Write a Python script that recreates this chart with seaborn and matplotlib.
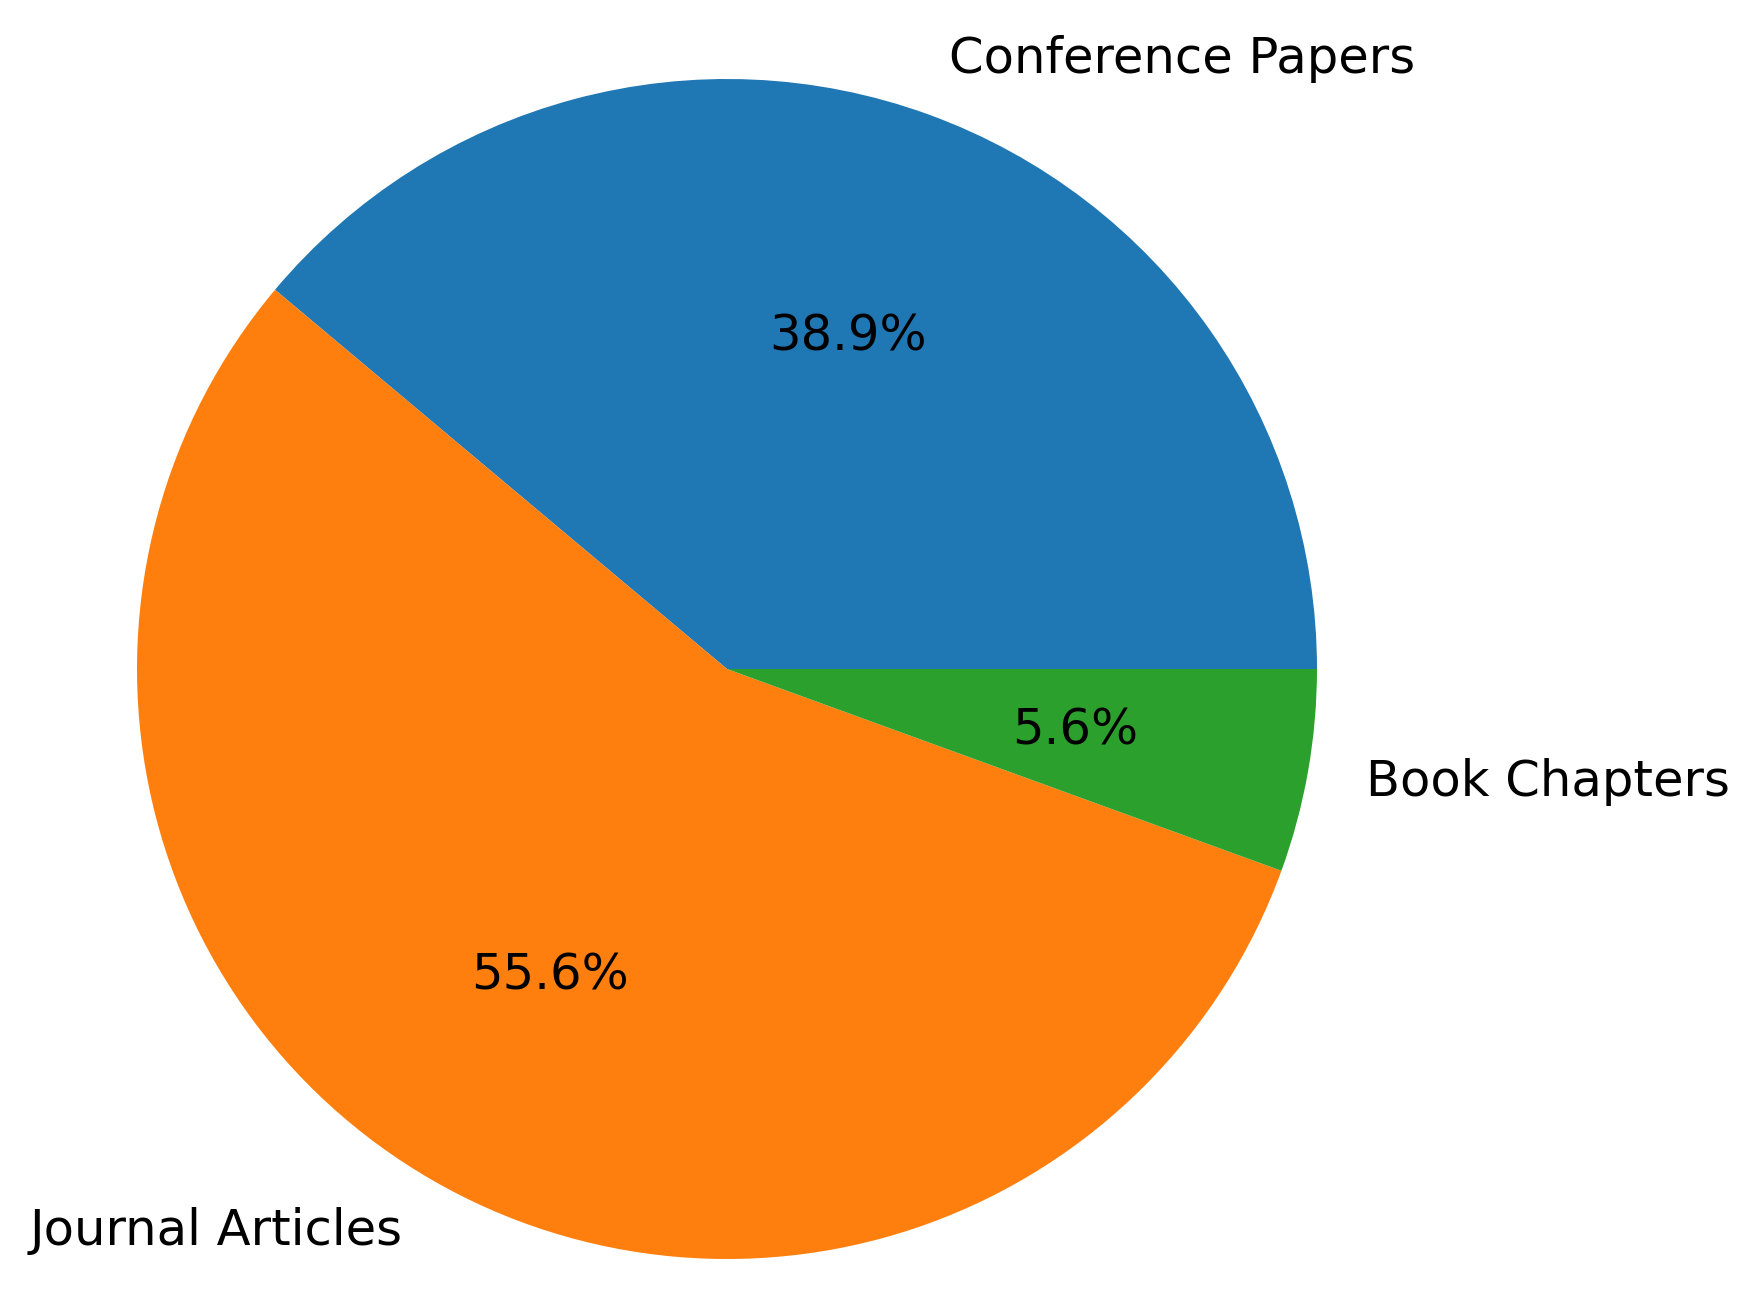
import matplotlib
matplotlib.use("Agg")
import matplotlib.pyplot as plt
import seaborn as sns

# Publication counts by type
categories = ["Conference Papers", "Journal Articles", "Book Chapters"]
counts = [7, 10, 1]


def plot_data():
    colors = sns.color_palette("tab10", 3)
    fig = plt.figure(figsize=(17.43, 12.92), dpi=100)
    ax = fig.add_axes([0, 0, 1, 1])
    ax.pie(counts, labels=categories, colors=colors, autopct="%1.1f%%",
           textprops={"fontsize": 35.7})
    # place the pie like the reference: centre (727, 669) px, radius 590 px
    r = 590.0
    cx, cy = 727.0, 1292.0 - 669.0
    ax.set_aspect("auto")
    ax.set_xlim(-cx / r, (1743.0 - cx) / r)
    ax.set_ylim(-cy / r, (1292.0 - cy) / r)
    ax.axis("off")
    fig.savefig("out.png", dpi=100)


if __name__ == "__main__":
    plot_data()
